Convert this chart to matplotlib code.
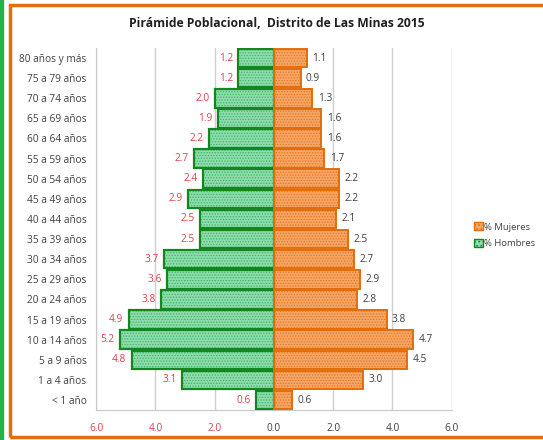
import matplotlib.pyplot as plt
import matplotlib.patches as mpatches
import numpy as np

grupos = ["< 1 año", "1 a 4 años", "5 a 9 años", "10 a 14 años", "15 a 19 años",
          "20 a 24 años", "25 a 29 años", "30 a 34 años", "35 a 39 años",
          "40 a 44 años", "45 a 49 años", "50 a 54 años", "55 a 59 años",
          "60 a 64 años", "65 a 69 años", "70 a 74 años", "75 a 79 años",
          "80 años y más"]
hombres = [0.6, 3.1, 4.8, 5.2, 4.9, 3.8, 3.6, 3.7, 2.5, 2.5, 2.9, 2.4, 2.7,
           2.2, 1.9, 2.0, 1.2, 1.2]
mujeres = [0.6, 3.0, 4.5, 4.7, 3.8, 2.8, 2.9, 2.7, 2.5, 2.1, 2.2, 2.2, 1.7,
           1.6, 1.6, 1.3, 0.9, 1.1]
xticks = [-6, -4, -2, 0, 2, 4, 6]

plt.rcParams['font.family'] = ['Open Sans', 'DejaVu Sans']
plt.rcParams['hatch.linewidth'] = 0.6

fig = plt.figure(figsize=(5.43, 4.40), dpi=100)
ax = fig.add_axes([0.177, 0.068, 0.655, 0.823])

y = np.arange(len(grupos))
h = np.array(hombres)
m = np.array(mujeres)
alto = 0.92

# relleno punteado + borde por separado
ax.barh(y, -h, height=alto, color="#8edcab", edgecolor="#3fb56a", hatch="......", linewidth=0, zorder=2)
ax.barh(y, -h, height=alto, fill=False, edgecolor="#13861f", linewidth=1.6, zorder=3)
ax.barh(y, m, height=alto, color="#f4a566", edgecolor="#e8781f", hatch="......", linewidth=0, zorder=2)
ax.barh(y, m, height=alto, fill=False, edgecolor="#e46c0a", linewidth=1.4, zorder=3)

for i in range(len(grupos)):
    ax.text(-h[i] - 0.18, y[i], f"{h[i]:.1f}", ha="right", va="center", fontsize=7.3, color="#e0404a")
    ax.text(m[i] + 0.18, y[i], f"{m[i]:.1f}", ha="left", va="center", fontsize=7.3, color="#404040")

ax.set_xlim(-6, 6)
ax.set_ylim(-0.5, len(grupos) - 0.5)
ax.set_xticks(xticks)
ax.set_xticklabels([f"{abs(v):.1f}" for v in xticks], fontsize=7.3)
for lbl, v in zip(ax.get_xticklabels(), xticks):
    lbl.set_color("#e0404a" if v < 0 else "#404040")
ax.set_yticks(y)
ax.set_yticklabels(grupos, fontsize=7.3, color="#404040")
ax.tick_params(axis="y", length=0, pad=7)
ax.tick_params(axis="x", length=0, pad=9)
ax.grid(axis="x", color="#d0d0d0", linewidth=1, zorder=0)
for s in ["top", "right"]:
    ax.spines[s].set_visible(False)
ax.spines["left"].set_color("#c8c8c8")
ax.spines["bottom"].set_color("#c8c8c8")

fig.text(0.51, 0.946, "Pirámide Poblacional,  Distrito de Las Minas 2015",
         ha="center", va="center", fontsize=8.7, fontweight="bold", color="#202020")

leg = [mpatches.Patch(facecolor="#f4a566", edgecolor="#e46c0a", hatch="....", label="% Mujeres"),
       mpatches.Patch(facecolor="#8edcab", edgecolor="#13861f", hatch="....", label="% Hombres")]
fig.legend(handles=leg, loc="center left", bbox_to_anchor=(0.873, 0.465), frameon=False,
           fontsize=6.8, handlelength=0.9, handleheight=0.9, handletextpad=0.2,
           labelspacing=0.8, labelcolor="#404040", borderaxespad=0, borderpad=0)

# marcos
fig.patches.append(mpatches.Rectangle((0.019, 0.007), 1.0, 0.981, transform=fig.transFigure,
                                      fill=False, edgecolor="#e46c0a", linewidth=2.5))
fig.patches.append(mpatches.Rectangle((0.003, -0.01), 0.0, 1.02, transform=fig.transFigure,
                                      fill=False, edgecolor="#22b14c", linewidth=3))

fig.savefig("out.png", dpi=100)
